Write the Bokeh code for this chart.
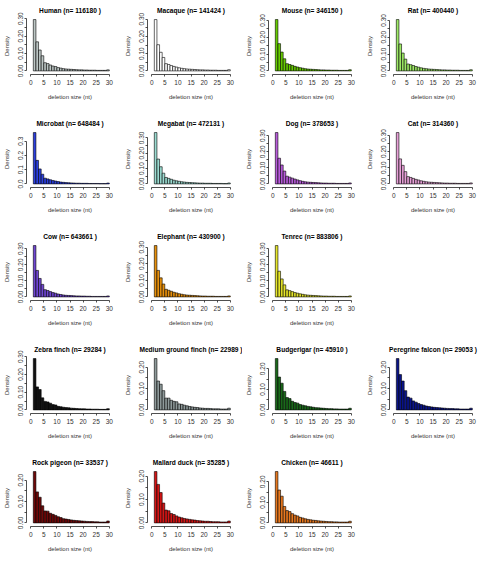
from bokeh.plotting import figure
from bokeh.layouts import gridplot
from bokeh.models import Range1d, FixedTicker, ColumnDataSource
from bokeh.embed import file_html
from bokeh.resources import INLINE

species = ["Human", "Macaque", "Mouse", "Rat",
           "Microbat", "Megabat", "Dog", "Cat",
           "Cow", "Elephant", "Tenrec",
           "Zebra finch", "Medium ground finch", "Budgerigar", "Peregrine falcon",
           "Rock pigeon", "Mallard duck", "Chicken"]
n_counts = [116180, 141424, 346150, 400440,
            648484, 472131, 378653, 314360,
            643661, 430900, 883806,
            29284, 22989, 45910, 29053,
            33537, 35285, 46611]

# bins [k, k+1], k = 1..29
bin_left = list(range(1, 30))

human = [0.295,0.167,0.120,0.087,0.047,0.042,0.034,0.028,0.025,0.019,0.016,0.013,0.011,0.010,0.009,0.008,0.007,0.006,0.006,0.005,0.005,0.004,0.004,0.004,0.003,0.003,0.003,0.003,0.006]
macaque = [0.298,0.152,0.108,0.078,0.042,0.037,0.031,0.026,0.022,0.018,0.015,0.013,0.011,0.010,0.009,0.008,0.007,0.006,0.006,0.005,0.005,0.004,0.004,0.004,0.003,0.003,0.003,0.003,0.007]
mouse = [0.305,0.162,0.112,0.072,0.043,0.038,0.033,0.027,0.023,0.019,0.016,0.013,0.011,0.010,0.009,0.008,0.007,0.006,0.006,0.005,0.005,0.004,0.004,0.004,0.003,0.003,0.003,0.003,0.007]
rat = [0.305,0.160,0.106,0.070,0.041,0.037,0.032,0.026,0.022,0.018,0.015,0.013,0.011,0.010,0.009,0.008,0.007,0.006,0.006,0.005,0.005,0.004,0.004,0.004,0.003,0.003,0.003,0.003,0.007]
microbat = [0.360,0.165,0.105,0.068,0.040,0.035,0.029,0.024,0.020,0.016,0.013,0.011,0.009,0.008,0.007,0.006,0.005,0.005,0.004,0.004,0.004,0.003,0.003,0.003,0.003,0.002,0.002,0.002,0.006]
megabat = [0.335,0.162,0.112,0.070,0.042,0.036,0.030,0.024,0.020,0.017,0.014,0.012,0.010,0.009,0.008,0.007,0.006,0.005,0.005,0.004,0.004,0.004,0.003,0.003,0.003,0.003,0.002,0.002,0.006]
dog = [0.320,0.160,0.118,0.080,0.048,0.042,0.036,0.030,0.025,0.020,0.016,0.013,0.011,0.010,0.009,0.008,0.007,0.006,0.005,0.005,0.004,0.004,0.004,0.003,0.003,0.003,0.003,0.003,0.006]
cat = [0.318,0.155,0.115,0.076,0.045,0.040,0.034,0.028,0.024,0.019,0.016,0.013,0.011,0.010,0.009,0.008,0.007,0.006,0.005,0.005,0.004,0.004,0.004,0.003,0.003,0.003,0.003,0.003,0.006]
cow = [0.320,0.165,0.115,0.078,0.045,0.040,0.033,0.027,0.023,0.018,0.015,0.012,0.010,0.009,0.008,0.007,0.006,0.006,0.005,0.005,0.004,0.004,0.003,0.003,0.003,0.003,0.003,0.003,0.006]
elephant = [0.310,0.160,0.115,0.078,0.046,0.040,0.034,0.028,0.024,0.019,0.016,0.013,0.011,0.010,0.009,0.008,0.007,0.006,0.005,0.005,0.004,0.004,0.004,0.003,0.003,0.003,0.003,0.003,0.006]
tenrec = [0.320,0.160,0.112,0.075,0.044,0.039,0.033,0.027,0.023,0.019,0.016,0.013,0.011,0.010,0.009,0.008,0.007,0.006,0.005,0.005,0.004,0.004,0.004,0.003,0.003,0.003,0.003,0.003,0.006]
zebra_finch = [0.290,0.130,0.115,0.068,0.048,0.045,0.038,0.030,0.028,0.020,0.018,0.015,0.013,0.012,0.010,0.009,0.008,0.007,0.006,0.006,0.005,0.005,0.004,0.004,0.004,0.003,0.003,0.003,0.007]
ground_finch = [0.240,0.135,0.120,0.090,0.055,0.055,0.045,0.040,0.038,0.028,0.026,0.022,0.019,0.016,0.014,0.012,0.011,0.009,0.008,0.007,0.007,0.006,0.005,0.005,0.005,0.004,0.004,0.004,0.008]
budgerigar = [0.250,0.160,0.130,0.090,0.060,0.055,0.042,0.036,0.033,0.026,0.023,0.020,0.017,0.015,0.013,0.011,0.010,0.009,0.008,0.007,0.006,0.006,0.005,0.005,0.004,0.004,0.004,0.004,0.008]
falcon = [0.240,0.165,0.135,0.090,0.060,0.055,0.042,0.036,0.030,0.025,0.022,0.018,0.016,0.014,0.012,0.011,0.010,0.009,0.008,0.007,0.006,0.006,0.005,0.005,0.004,0.004,0.004,0.004,0.008]
pigeon = [0.240,0.145,0.120,0.080,0.056,0.055,0.045,0.040,0.035,0.029,0.025,0.020,0.018,0.016,0.014,0.012,0.011,0.010,0.009,0.008,0.007,0.006,0.006,0.005,0.005,0.004,0.004,0.004,0.009]
duck = [0.220,0.165,0.130,0.085,0.055,0.052,0.040,0.036,0.030,0.025,0.022,0.019,0.017,0.015,0.013,0.012,0.010,0.009,0.008,0.007,0.007,0.006,0.005,0.005,0.005,0.004,0.004,0.004,0.008]
chicken = [0.250,0.160,0.130,0.080,0.060,0.055,0.045,0.038,0.034,0.027,0.024,0.020,0.017,0.015,0.013,0.012,0.010,0.009,0.008,0.007,0.006,0.006,0.005,0.005,0.004,0.004,0.004,0.004,0.008]

densities = [human, macaque, mouse, rat, microbat, megabat, dog, cat, cow, elephant,
             tenrec, zebra_finch, ground_finch, budgerigar, falcon, pigeon, duck, chicken]

x_ticks = [0, 5, 10, 15, 20, 25, 30]
x_tick_labels = ["0", "5", "10", "15", "20", "25", "30"]

y_ticks_a = [0, 0.05, 0.1, 0.15, 0.2, 0.25, 0.3]
y_labels_a = ["0.00", "", "0.10", "", "0.20", "", "0.30"]
y_ticks_b = [0, 0.1, 0.2, 0.3]
y_labels_b = ["0.0", "0.1", "0.2", "0.3"]
y_ticks_c = [0, 0.05, 0.1, 0.15, 0.2]
y_labels_c = ["0.00", "", "0.10", "", "0.20"]
y_axis_kind = ["a", "a", "a", "a", "b", "a", "a", "a", "a", "a", "a",
               "a", "c", "c", "c", "c", "c", "c"]

colors = ["#BCC6C4", "#FFFFFF", "#66CC00", "#9EEB66",
          "#2B3FE0", "#9ADBD0", "#B85BDB", "#E8A0D8",
          "#7046D4", "#E8900A", "#E6E62A",
          "#111111", "#8E9A9A", "#1A6A1A", "#0A148C",
          "#700808", "#D61515", "#E8781E"]

# grid slots (row-major, 4 per row); -1 = empty cell
grid_slots = [0, 1, 2, 3, 4, 5, 6, 7, 8, 9, 10, -1, 11, 12, 13, 14, 15, 16, 17, -1]

FONT = "Liberation Sans"
ticks_map = {"a": (y_ticks_a, y_labels_a), "b": (y_ticks_b, y_labels_b), "c": (y_ticks_c, y_labels_c)}


def make_panel(i):
    name = species[i]
    d = densities[i]
    m = max(d)
    p = figure(width=121, height=113, output_backend="svg", toolbar_location=None,
               x_range=Range1d(-1.6, 31.6), y_range=Range1d(-0.07 * m, 1.04 * m),
               min_border_left=23, min_border_right=8, min_border_top=17, min_border_bottom=39,
               title=f"{name} (n= {n_counts[i]} )")
    p.title.align = "center"
    p.title.text_font = FONT
    p.title.text_font_style = "bold"
    p.title.text_font_size = "6.6px"
    p.title.standoff = 7
    p.title.text_color = "#000000"
    p.outline_line_color = None
    p.xgrid.visible = False
    p.ygrid.visible = False

    src = ColumnDataSource(dict(left=bin_left, right=[b + 1 for b in bin_left], top=d))
    p.quad(left="left", right="right", top="top", bottom=0, source=src,
           fill_color=colors[i], line_color="#000000", line_width=0.6)

    yt, yl = ticks_map[y_axis_kind[i]]
    p.xaxis.ticker = FixedTicker(ticks=x_ticks)
    p.xaxis.major_label_overrides = {t: l for t, l in zip(x_ticks, x_tick_labels)}
    p.yaxis.ticker = FixedTicker(ticks=yt)
    p.yaxis.major_label_overrides = {t: l for t, l in zip(yt, yl)}
    p.xaxis.bounds = (x_ticks[0], x_ticks[-1])
    p.yaxis.bounds = (yt[0], yt[-1])
    p.yaxis.major_label_orientation = "vertical"
    p.xaxis.axis_label = "deletion size (nt)"
    p.yaxis.axis_label = "Density"
    for ax in (p.xaxis, p.yaxis):
        ax.axis_line_color = "#222222"
        ax.axis_line_width = 0.8
        ax.major_tick_line_color = "#222222"
        ax.major_tick_line_width = 0.8
        ax.major_tick_out = 2
        ax.major_tick_in = 0
        ax.minor_tick_line_color = None
        ax.major_label_text_font = FONT
        ax.major_label_text_font_size = "6.5px"
        ax.major_label_text_color = "#333333"
        ax.axis_label_text_font = FONT
        ax.axis_label_text_font_size = "6px"
        ax.axis_label_text_font_style = "normal"
        ax.axis_label_text_color = "#333333"
    p.xaxis.major_label_standoff = 3
    p.xaxis.axis_label_standoff = 6
    p.yaxis.major_label_standoff = 1
    p.yaxis.axis_label_standoff = 6
    return p


cells = [make_panel(k) if k >= 0 else None for k in grid_slots]
rows = [cells[r * 4:(r + 1) * 4] for r in range(5)]
grid = gridplot(rows, toolbar_location=None)
open("out.html", "w").write(file_html(grid, INLINE))
